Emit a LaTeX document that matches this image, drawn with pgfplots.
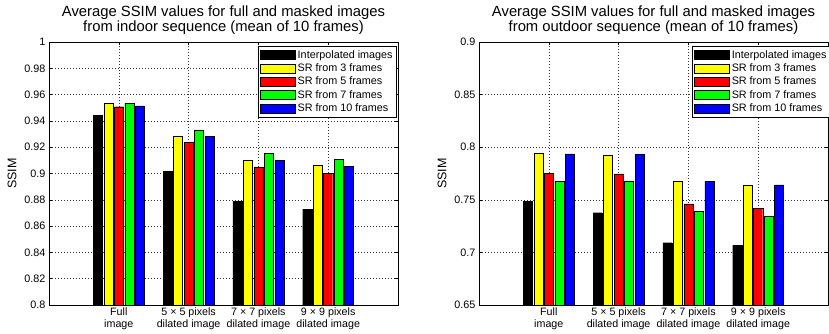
\documentclass[border=0pt]{standalone}
\usepackage{fontspec}
\setmainfont{Liberation Sans}
\usepackage{pgfplots}
\pgfplotsset{compat=1.18}
\definecolor{myyellow}{rgb}{1,1,0}
\definecolor{myred}{rgb}{1,0,0}
\definecolor{mygreen}{rgb}{0,1,0}
\definecolor{myblue}{rgb}{0,0,1}
\pgfplotsset{
  myaxis/.style={
    scale only axis,
    width=349pt, height=263pt,
    anchor=south west,
    xmin=0, xmax=5,
    xtick={1,2,3,4},
    xticklabels={Full\\image, 5 × 5 pixels\\dilated image, 7 × 7 pixels\\dilated image, 9 × 9 pixels\\dilated image},
    xticklabel style={align=center, font=\fontsize{10.7}{12}\selectfont, yshift=1pt},
    yticklabel style={font=\fontsize{10.8}{12}\selectfont},
    /pgf/number format/assume math mode=true,
    tick align=inside,
    major tick length=3pt,
    tick style={black, line width=0.5pt},
    grid=major,
    major grid style={black!80, dash pattern=on 0.6pt off 2.4pt, line width=0.5pt},
    axis line style={line width=0.8pt},
    ylabel={SSIM},
    every axis y label/.style={at={(axis description cs:0,0.5)}, xshift=-37pt, rotate=90, anchor=center, font=\fontsize{12.5}{14}\selectfont},
    title style={align=center, font=\fontsize{14.8}{15}\selectfont, yshift=-2pt},
    legend cell align=left,
    legend style={at={(1,1)}, anchor=north east, font=\fontsize{10.8}{13.3}\selectfont, draw=black, line width=0.8pt, inner sep=2pt, row sep=0pt},
    legend image code/.code={\draw[#1, draw=black, line width=0.4pt] (0pt,-4.5pt) rectangle (35pt,4.5pt);},
    bar width=0.13,
  },
  mybar/.style={ybar, draw=black, line width=0.4pt, fill=#1},
}
\begin{document}
\begin{tikzpicture}
\useasboundingbox (0,0) rectangle (829pt,333pt);
\begin{axis}[myaxis, at={(49pt,28pt)},
  ymin=0.8, ymax=1, ytick={0.8,0.82,...,1.001},
  title={Average SSIM values for full and masked images\\from indoor sequence (mean of 10 frames)},
  legend style={xshift=-1pt, yshift=-4pt}]
\addplot[mybar=black, bar shift=-0.3] coordinates {(1,0.944) (2,0.9015) (3,0.879) (4,0.873)};
\addplot[mybar=myyellow, bar shift=-0.15] coordinates {(1,0.9535) (2,0.9287) (3,0.9102) (4,0.906)};
\addplot[mybar=myred, bar shift=0] coordinates {(1,0.9508) (2,0.9236) (3,0.905) (4,0.900)};
\addplot[mybar=mygreen, bar shift=0.15] coordinates {(1,0.9535) (2,0.9328) (3,0.9152) (4,0.9105)};
\addplot[mybar=myblue, bar shift=0.3] coordinates {(1,0.9515) (2,0.9282) (3,0.910) (4,0.9054)};
\legend{Interpolated images, SR from 3 frames, SR from 5 frames, SR from 7 frames, SR from 10 frames}
\end{axis}
\begin{axis}[myaxis, at={(479pt,28pt)},
  ymin=0.65, ymax=0.9, ytick={0.65,0.7,...,0.901},
  title={Average SSIM values for full and masked images\\from outdoor sequence (mean of 10 frames)},
  legend style={xshift=3pt, yshift=-4pt}]
\addplot[mybar=black, bar shift=-0.3] coordinates {(1,0.7488) (2,0.7377) (3,0.7092) (4,0.707)};
\addplot[mybar=myyellow, bar shift=-0.15] coordinates {(1,0.7946) (2,0.7921) (3,0.7675) (4,0.7643)};
\addplot[mybar=myred, bar shift=0] coordinates {(1,0.775) (2,0.7747) (3,0.7462) (4,0.742)};
\addplot[mybar=mygreen, bar shift=0.15] coordinates {(1,0.7675) (2,0.768) (3,0.7389) (4,0.7344)};
\addplot[mybar=myblue, bar shift=0.3] coordinates {(1,0.7937) (2,0.7931) (3,0.7675) (4,0.7643)};
\legend{Interpolated images, SR from 3 frames, SR from 5 frames, SR from 7 frames, SR from 10 frames}
\end{axis}
\end{tikzpicture}
\end{document}
